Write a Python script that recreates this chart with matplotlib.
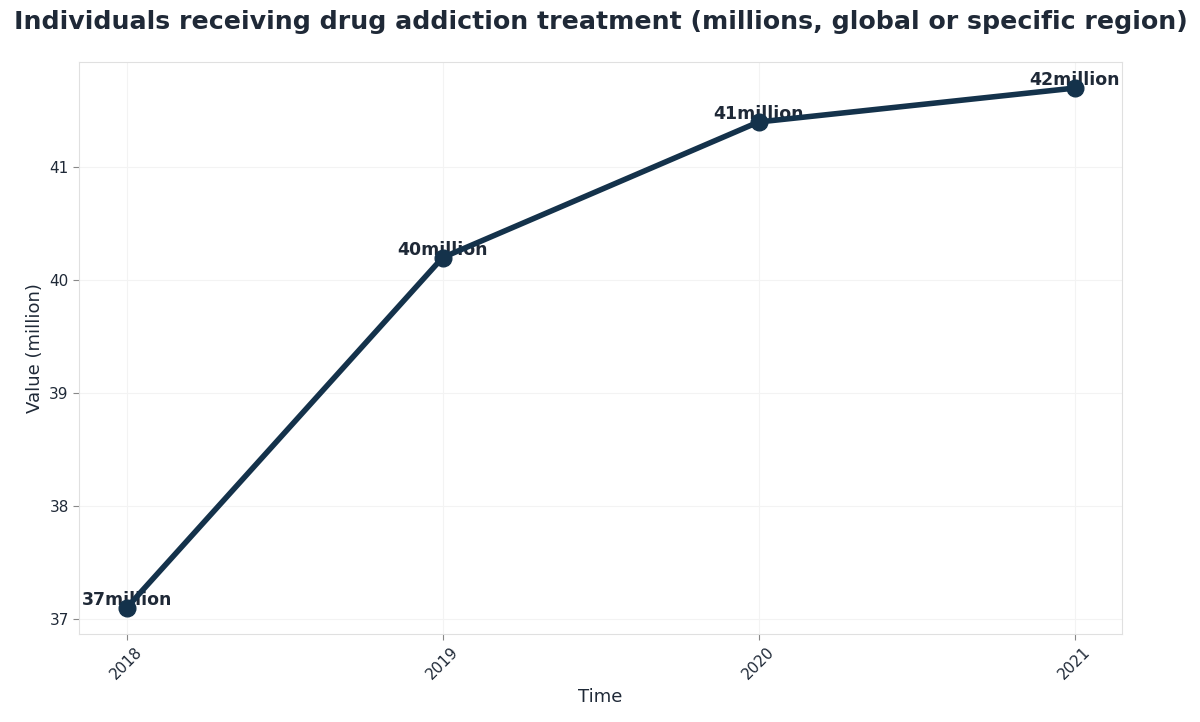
import matplotlib.pyplot as plt

years = ['2018', '2019', '2020', '2021']
values = [37.1, 40.2, 41.4, 41.7]
labels = ['37million', '40million', '41million', '42million']

text_color = '#1f2937'
line_color = '#14324b'

fig, ax = plt.subplots(figsize=(12, 7.22), dpi=100)
x = list(range(len(years)))

for xi, v, lab in zip(x, values, labels):
    ax.text(xi, v - 0.01, lab, ha='center', va='bottom', fontsize=12.5,
            fontweight='bold', color=text_color, zorder=2)

ax.plot(x, values, color=line_color, lw=4, marker='o', markersize=12, zorder=3)

ax.set_xticks(x)
ax.set_xticklabels(years, rotation=45, fontsize=11, color=text_color)
ax.set_yticks([37, 38, 39, 40, 41])
ax.tick_params(axis='y', labelsize=11, colors=text_color)
ax.tick_params(axis='x', colors=text_color)
ax.tick_params(color='#888888', length=4)

ax.grid(True, color='#f3f3f3', lw=0.8)
ax.set_axisbelow(True)
for s in ax.spines.values():
    s.set_color('#e0e0e0')

ax.set_xlabel('Time', fontsize=13, color=text_color)
ax.set_ylabel('Value (million)', fontsize=13, color=text_color)
ax.set_title('Individuals receiving drug addiction treatment (millions, global or specific region)',
             fontsize=18.2, fontweight='bold', color=text_color, pad=24)

plt.subplots_adjust(left=0.066, right=0.935, top=0.914, bottom=0.122)
plt.savefig('out.png', dpi=100)
